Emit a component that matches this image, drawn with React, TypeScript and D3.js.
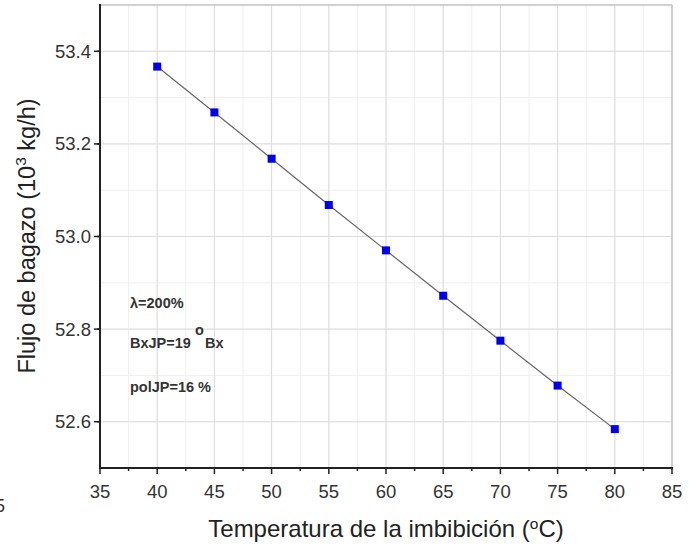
import React from "react";
import * as d3 from "d3";

const temps = [40, 45, 50, 55, 60, 65, 70, 75, 80];
const flujo = [53.367, 53.268, 53.168, 53.068, 52.970, 52.872, 52.775, 52.678, 52.584];
const xTicks = [35, 40, 45, 50, 55, 60, 65, 70, 75, 80, 85];
const yTicks = [52.6, 52.8, 53.0, 53.2, 53.4];

export default function App() {
  const W = 689, H = 550;
  const x = d3.scaleLinear().domain([35, 85]).range([100, 672]);
  const y = d3.scaleLinear().domain([52.5, 53.5]).range([468, 5]);
  const xMinor = d3.range(35, 85.01, 2.5);
  const yMinor = d3.range(52.5, 53.501, 0.1);
  const line = d3.line<number>().x((_, i) => x(temps[i])).y((d) => y(d));
  const font = "Arial, 'Liberation Sans', sans-serif";
  return (
    <svg width={W} height={H} style={{ position: "absolute", left: 0, top: 0, background: "#fff" }} fontFamily={font}>
      {/* minor grid */}
      {xMinor.map((v, i) => (
        <line key={"xm" + i} x1={x(v)} x2={x(v)} y1={y(53.5)} y2={y(52.5)} stroke="#efefef" strokeWidth={1} />
      ))}
      {yMinor.map((v, i) => (
        <line key={"ym" + i} x1={x(35)} x2={x(85)} y1={y(v)} y2={y(v)} stroke="#efefef" strokeWidth={1} />
      ))}
      {/* major grid */}
      {xTicks.map((v) => (
        <line key={"xg" + v} x1={x(v)} x2={x(v)} y1={y(53.5)} y2={y(52.5)} stroke="#dcdcdc" strokeWidth={1} />
      ))}
      {yTicks.map((v) => (
        <line key={"yg" + v} x1={x(35)} x2={x(85)} y1={y(v)} y2={y(v)} stroke="#dcdcdc" strokeWidth={1} />
      ))}
      {/* frame top/right */}
      <line x1={x(35)} x2={x(85)} y1={y(53.5)} y2={y(53.5)} stroke="#c4c4c4" strokeWidth={1.5} />
      <line x1={x(85)} x2={x(85)} y1={y(53.5)} y2={y(52.5)} stroke="#c4c4c4" strokeWidth={1.5} />
      {/* axes */}
      <line x1={x(35)} x2={x(85) + 1} y1={y(52.5)} y2={y(52.5)} stroke="#222" strokeWidth={2} />
      <line x1={x(35)} x2={x(35)} y1={y(53.5) - 1} y2={y(52.5) + 1} stroke="#222" strokeWidth={2} />
      {xTicks.map((v) => (
        <g key={"xt" + v}>
          <line x1={x(v)} x2={x(v)} y1={y(52.5)} y2={y(52.5) + 6} stroke="#222" strokeWidth={1.5} />
          <text x={x(v)} y={y(52.5) + 30} textAnchor="middle" fontSize={18.5} fill="#333">{v}</text>
        </g>
      ))}
      {xMinor.filter((_, i) => i % 2 === 1).map((v, i) => (
        <line key={"xmt" + i} x1={x(v)} x2={x(v)} y1={y(52.5)} y2={y(52.5) + 3} stroke="#222" strokeWidth={1.5} />
      ))}
      {yTicks.map((v) => (
        <g key={"yt" + v}>
          <line x1={x(35) - 6} x2={x(35)} y1={y(v)} y2={y(v)} stroke="#222" strokeWidth={1.5} />
          <text x={x(35) - 9} y={y(v) + 6.5} textAnchor="end" fontSize={18.5} fill="#333">{v.toFixed(1)}</text>
        </g>
      ))}
      {yMinor.filter((_, i) => i % 2 === 1).map((v, i) => (
        <line key={"ymt" + i} x1={x(35) - 3} x2={x(35)} y1={y(v)} y2={y(v)} stroke="#222" strokeWidth={1.5} />
      ))}
      {/* data */}
      <path d={line(flujo) || ""} fill="none" stroke="#666" strokeWidth={1.2} />
      {flujo.map((v, i) => (
        <rect key={"p" + i} x={x(temps[i]) - 4} y={y(v) - 4} width={8} height={8} fill="#0000ee" />
      ))}
      {/* annotations */}
      <text x={130} y={308} fontSize={14.5} fontWeight="bold" fill="#333">λ=200%</text>
      <text x={130} y={348} fontSize={14.5} fontWeight="bold" fill="#333">BxJP=19</text>
      <text x={195} y={335} fontSize={14.5} fontWeight="bold" fill="#333">o</text>
      <text x={205} y={348} fontSize={14.5} fontWeight="bold" fill="#333">Bx</text>
      <text x={130} y={392} fontSize={14.5} fontWeight="bold" fill="#333">polJP=16 %</text>
      {/* axis titles */}
      <text x={386} y={537} textAnchor="middle" fontSize={24} fill="#222">
        Temperatura de la imbibición (<tspan dy={-8} fontSize={15.5}>o</tspan><tspan dy={8}>C)</tspan>
      </text>
      <text transform={`translate(35,236) rotate(-90)`} textAnchor="middle" fontSize={23.5} fill="#222">
        Flujo de bagazo (10<tspan dy={-9} fontSize={15.5}>3</tspan><tspan dy={9}> kg/h)</tspan>
      </text>
      <text x={-5} y={512} fontSize={18} fill="#333">5</text>
    </svg>
  );
}
